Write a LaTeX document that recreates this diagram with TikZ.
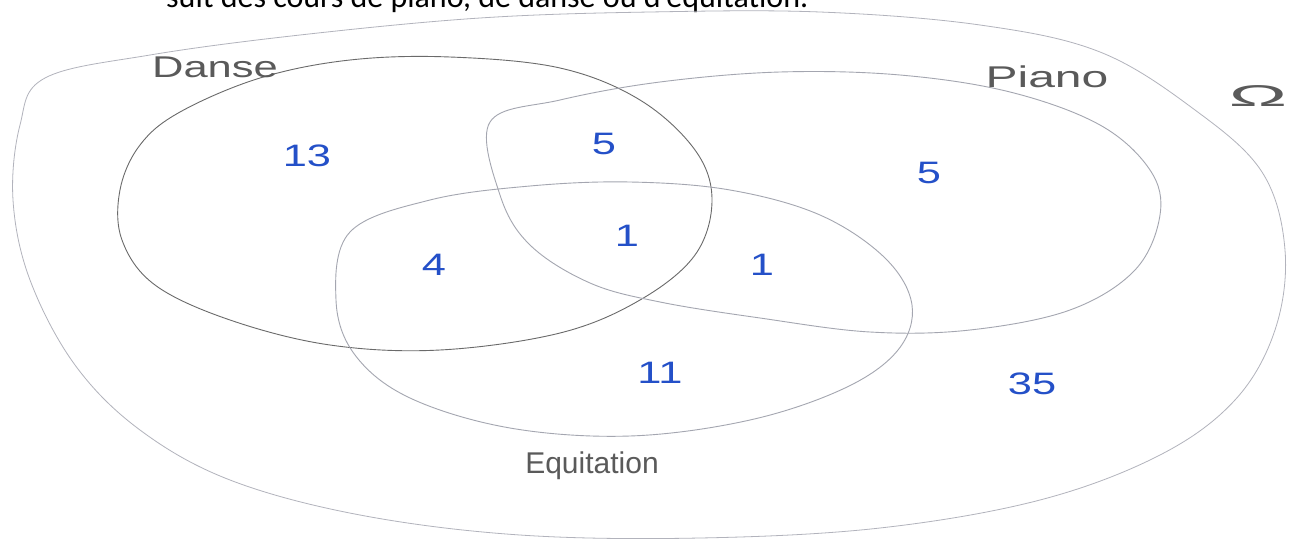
\documentclass[tikz,border=0pt]{standalone}
\usepackage{fontspec}
\setmainfont{Liberation Sans}
\newfontfamily\topfont{Carlito}
\definecolor{numblue}{HTML}{2450C8}
\definecolor{pencil}{HTML}{A4A6B0}
\definecolor{darkpencil}{HTML}{6A6A6A}
\definecolor{labelgray}{HTML}{5A5A5A}
\begin{document}
\begin{tikzpicture}[x=1pt,y=-1pt,
  outerline/.style={draw=pencil!85, line width=0.8pt},
  setline/.style={draw=pencil, line width=0.9pt},
  danseline/.style={draw=darkpencil, line width=0.9pt},
  num/.style={text=numblue, inner sep=0pt, xscale=1.4, transform shape, font=\fontsize{31}{31}\selectfont},
  lbl/.style={text=labelgray, inner sep=0pt, font=\fontsize{30}{30}\selectfont}]
\useasboundingbox (0,0) rectangle (1299,541);
\fill[white] (0,0) rectangle (1299,541);
\clip (0,0) rectangle (1299,541);
% top cut-off sentence
\node[anchor=base west, inner sep=0pt, font=\topfont\fontsize{32}{32}\selectfont] (toptext) at (166,7) {suit des cours de piano, de danse ou d’équitation.};
% outer universe
\draw[outerline] plot[smooth cycle, tension=0.6] coordinates {
 (45,78) (150,55) (300,35) (480,18) (650,12) (820,12) (980,25) (1100,52) (1195,110)
 (1262,172) (1285,250) (1275,330) (1235,400) (1160,455) (1040,500) (880,528)
 (700,538) (520,535) (360,515) (230,480) (140,430) (75,365) (30,280) (13,200) (20,125)};
% Danse
\draw[danseline] plot[smooth cycle, tension=0.6] coordinates {
 (180,112) (260,78) (350,60) (450,57) (560,68) (640,100) (695,150) (712,200)
 (695,255) (640,300) (560,333) (440,350) (330,345) (230,320) (155,285) (122,240)
 (120,190) (140,145)};
% Piano
\draw[setline] plot[smooth cycle, tension=0.6] coordinates {
 (490,122) (560,100) (660,82) (780,72) (900,75) (1010,92) (1100,125) (1150,170)
 (1160,215) (1135,270) (1070,310) (970,330) (870,332) (760,318) (660,302)
 (590,283) (530,245) (500,195)};
% Equitation
\draw[setline] plot[smooth cycle, tension=0.6] coordinates {
 (350,232) (430,200) (530,186) (630,182) (730,190) (820,215) (885,258) (912,305)
 (898,350) (845,388) (750,420) (630,436) (510,428) (410,398) (355,355) (336,300)};
% labels
\node[lbl, xscale=1.45, transform shape] (danse) at (215,67) {Danse};
\node[lbl, xscale=1.6, transform shape] (piano) at (1047,77) {Piano};
\node[lbl, xscale=2.6, transform shape] (omega) at (1258,96) {Ω};
\node[lbl] (equi) at (592,466) {Equitation};
% numbers
\node[num] (n13) at (307,156) {13};
\node[num] (n5a) at (604,144) {5};
\node[num] (n5b) at (929,173) {5};
\node[num] (n1a) at (627,236) {1};
\node[num] (n4) at (434,265) {4};
\node[num] (n1b) at (762,265) {1};
\node[num] (n11) at (660,373) {11};
\node[num] (n35) at (1032,384) {35};
\end{tikzpicture}
\end{document}
